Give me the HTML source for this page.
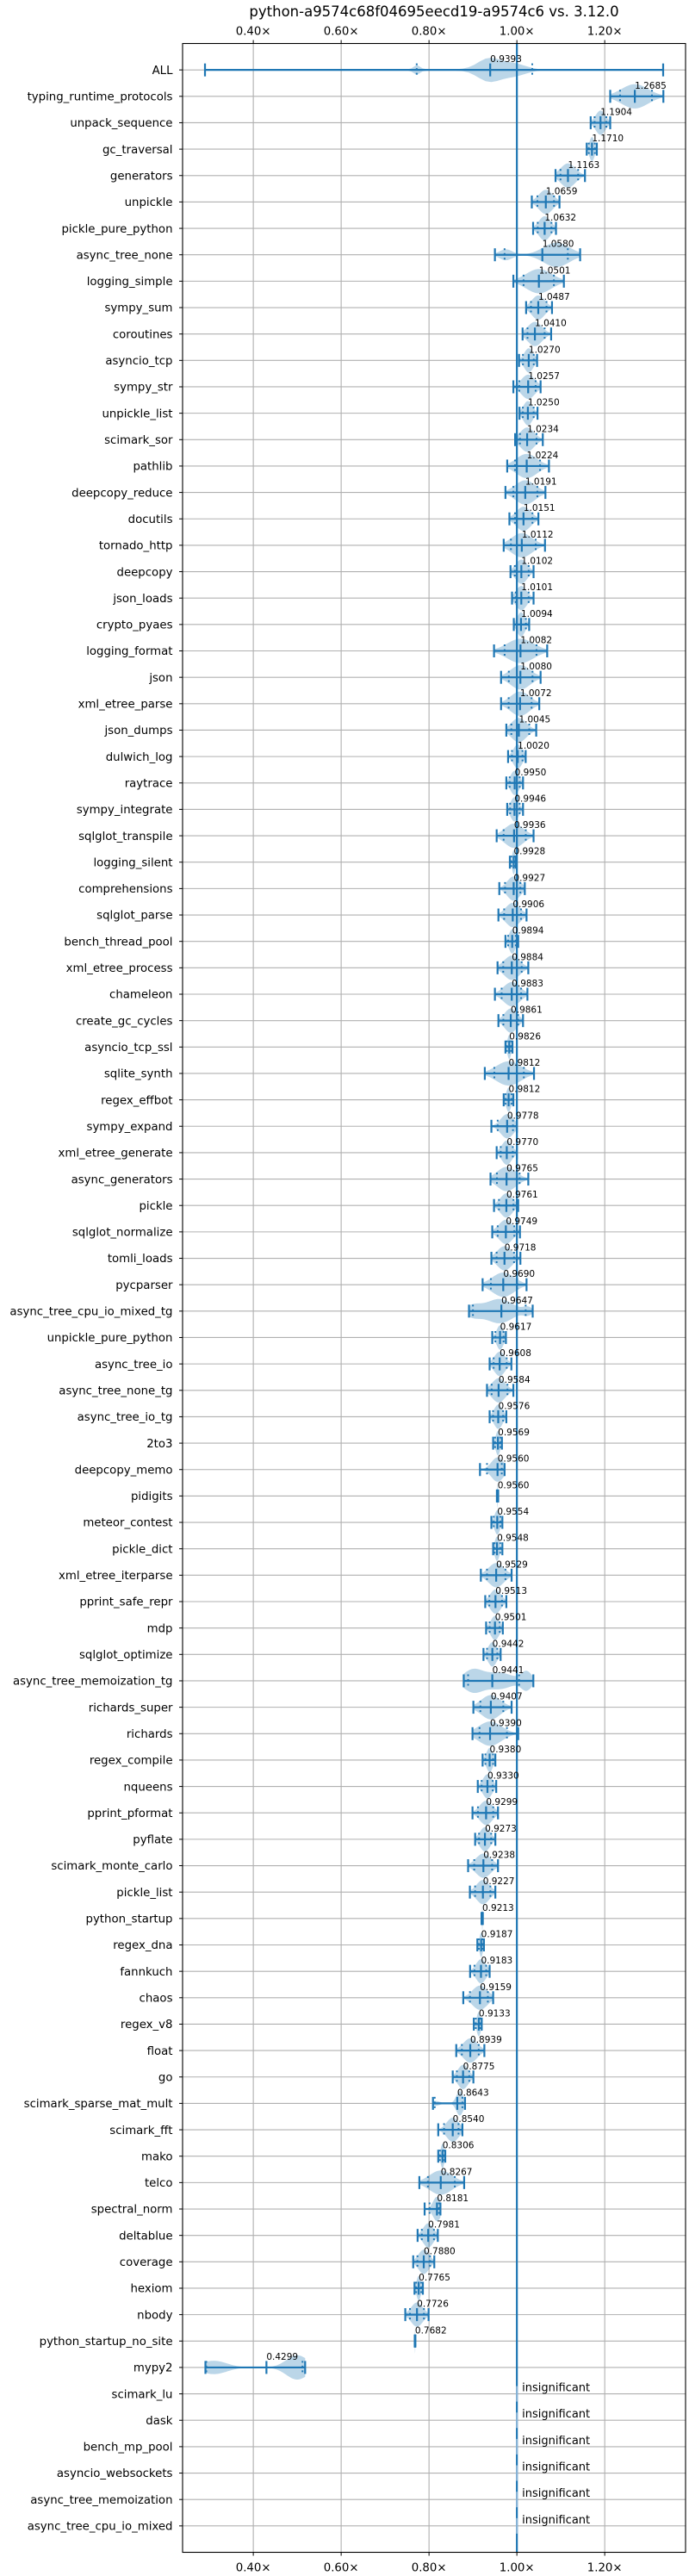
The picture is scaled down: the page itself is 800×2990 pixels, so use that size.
<!DOCTYPE html>
<html><head><meta charset="utf-8"><style>
html,body{margin:0;padding:0;background:#fff;}
svg{display:block;font-family:"DejaVu Sans","Liberation Sans",sans-serif;}
</style></head><body>
<svg id="chart" width="800" height="2990" viewBox="0 0 800 2990" xmlns="http://www.w3.org/2000/svg">
<rect width="800" height="2990" fill="#fff"/>
<text x="504" y="19" text-anchor="middle" font-size="16.5" fill="#000">python-a9574c68f04695eecd19-a9574c6 vs. 3.12.0</text>
<g id="grid"></g><g id="violins"></g><g id="marks"></g><g id="axes"></g>
</svg>
<script>
const names = ["ALL","typing_runtime_protocols","unpack_sequence","gc_traversal","generators","unpickle","pickle_pure_python","async_tree_none","logging_simple","sympy_sum","coroutines","asyncio_tcp","sympy_str","unpickle_list","scimark_sor","pathlib","deepcopy_reduce","docutils","tornado_http","deepcopy","json_loads","crypto_pyaes","logging_format","json","xml_etree_parse","json_dumps","dulwich_log","raytrace","sympy_integrate","sqlglot_transpile","logging_silent","comprehensions","sqlglot_parse","bench_thread_pool","xml_etree_process","chameleon","create_gc_cycles","asyncio_tcp_ssl","sqlite_synth","regex_effbot","sympy_expand","xml_etree_generate","async_generators","pickle","sqlglot_normalize","tomli_loads","pycparser","async_tree_cpu_io_mixed_tg","unpickle_pure_python","async_tree_io","async_tree_none_tg","async_tree_io_tg","2to3","deepcopy_memo","pidigits","meteor_contest","pickle_dict","xml_etree_iterparse","pprint_safe_repr","mdp","sqlglot_optimize","async_tree_memoization_tg","richards_super","richards","regex_compile","nqueens","pprint_pformat","pyflate","scimark_monte_carlo","pickle_list","python_startup","regex_dna","fannkuch","chaos","regex_v8","float","go","scimark_sparse_mat_mult","scimark_fft","mako","telco","spectral_norm","deltablue","coverage","hexiom","nbody","python_startup_no_site","mypy2","scimark_lu","dask","bench_mp_pool","asyncio_websockets","async_tree_memoization","async_tree_cpu_io_mixed"];
const medians = [0.9393,1.2685,1.1904,1.1710,1.1163,1.0659,1.0632,1.0580,1.0501,1.0487,1.0410,1.0270,1.0257,1.0250,1.0234,1.0224,1.0191,1.0151,1.0112,1.0102,1.0101,1.0094,1.0082,1.0080,1.0072,1.0045,1.0020,0.9950,0.9946,0.9936,0.9928,0.9927,0.9906,0.9894,0.9884,0.9883,0.9861,0.9826,0.9812,0.9812,0.9778,0.9770,0.9765,0.9761,0.9749,0.9718,0.9690,0.9647,0.9617,0.9608,0.9584,0.9576,0.9569,0.9560,0.9560,0.9554,0.9548,0.9529,0.9513,0.9501,0.9442,0.9441,0.9407,0.9390,0.9380,0.9330,0.9299,0.9273,0.9238,0.9227,0.9213,0.9187,0.9183,0.9159,0.9133,0.8939,0.8775,0.8643,0.8540,0.8306,0.8267,0.8181,0.7981,0.7880,0.7765,0.7726,0.7682,0.4299,null,null,null,null,null,null];
const mins = [0.29,1.2125,1.168,1.159,1.088,1.034,1.037,0.95,0.992,1.021,1.013,1.005,0.992,1.006,0.996,0.978,0.974,0.983,0.970,0.9855,0.989,0.993,0.948,0.964,0.964,0.976,0.98,0.976,0.978,0.954,0.984,0.96,0.958,0.974,0.956,0.95,0.958,0.974,0.927,0.97,0.942,0.954,0.94,0.948,0.944,0.942,0.922,0.891,0.944,0.938,0.932,0.938,0.946,0.916,0.9545,0.942,0.946,0.918,0.928,0.930,0.924,0.879,0.901,0.899,0.922,0.911,0.899,0.905,0.889,0.893,0.9195,0.91,0.8935,0.878,0.902,0.862,0.854,0.809,0.821,0.821,0.778,0.79,0.774,0.764,0.767,0.746,0.7675,0.291,null,null,null,null,null,null];
const maxs = [1.333,1.3335,1.2125,1.182,1.155,1.097,1.089,1.144,1.107,1.080,1.078,1.046,1.054,1.047,1.059,1.073,1.065,1.049,1.064,1.038,1.038,1.028,1.069,1.054,1.051,1.044,1.020,1.014,1.014,1.038,0.998,1.018,1.022,1.003,1.026,1.024,1.014,0.99,1.039,0.992,1.0,1.0,1.026,1.003,1.007,1.008,1.022,1.036,0.975,0.9875,0.992,0.976,0.966,0.972,0.9575,0.967,0.967,0.988,0.976,0.968,0.963,1.0375,0.988,1.003,0.951,0.953,0.957,0.951,0.957,0.951,0.9225,0.925,0.938,0.946,0.92,0.926,0.901,0.882,0.876,0.837,0.88,0.826,0.82,0.812,0.786,0.799,0.769,0.518,null,null,null,null,null,null];
// extra density lobes: [row, center, sd, weight]
const lobes = [[0,0.772,0.008,0.45],[0,0.935,0.025,1],[0,0.99,0.03,0.6],[0,0.85,0.06,0.06],
  [7,0.975,0.015,0.45],[7,1.09,0.03,1],
  [47,0.9,0.018,0.45],[47,0.96,0.03,1],[47,1.025,0.01,0.3],
  [61,0.9,0.022,0.6],[61,0.96,0.03,0.45],[61,1.022,0.012,0.5],
  [77,0.815,0.01,0.2],[77,0.87,0.008,1],
  [87,0.31,0.03,0.55],[87,0.5,0.025,1]];
// quartile overrides for multimodal rows: [row, q1, q3]
const quartiles = [[0,0.772,1.035],[7,0.972,1.116],[47,0.9,1.02],[61,0.889,1.005],[77,0.813,0.876],[87,0.293,0.512]];
const xTicks = [0.4,0.6,0.8,1.0,1.2];
const xTickLabels = ["0.40x","0.60x","0.80x","1.00x","1.20x"];

const L=212,R=796,T=50.5,B=2962.5,X0=0.239,X1=1.384;
const x = v => L+(v-X0)/(X1-X0)*(R-L);
const rowH = (B-T)/(names.length+1);
const y = i => T+rowH*(i+1);
const NS="http://www.w3.org/2000/svg";
function mk(tag, parent, attrs){const e=document.createElementNS(NS,tag);for(const k in attrs)e.setAttribute(k,attrs[k]);parent.appendChild(e);return e;}
const grid=document.getElementById('grid'),vio=document.getElementById('violins'),marks=document.getElementById('marks'),axes=document.getElementById('axes');
const BLUE="#1f77b4";
xTicks.forEach((t,k)=>{
  const g=mk('line',grid,{x1:x(t),x2:x(t),y1:T,y2:B,stroke:"#b0b0b0","stroke-width":1.1});
  
  
  [[T,T-4,T-10],[B,B+4,B+22]].forEach(([a,b,ty])=>{
    const tk=mk('line',axes,{x1:x(t),x2:x(t),y1:a,y2:b,stroke:"#000","stroke-width":1});
    
    
    const tl=mk('text',axes,{x:x(t),y:ty,"text-anchor":"middle","font-size":13.3,fill:"#000"});
    tl.textContent=xTickLabels[k].replace('x','\u00d7');
    
    
  });
});
names.forEach((n,i)=>{
  const yy=y(i);
  const gl=mk('line',grid,{x1:L,x2:R,y1:yy,y2:yy,stroke:"#b0b0b0","stroke-width":1.1});
  
  
  const tk=mk('line',axes,{x1:L-4,x2:L,y1:yy,y2:yy,stroke:"#000","stroke-width":1});
  
  
  const lb=mk('text',axes,{x:L-11.5,y:yy+4.7,"text-anchor":"end","font-size":13.3,fill:"#000"});
  lb.textContent=n;
  
  
});
const ref=mk('line',marks,{x1:x(1),x2:x(1),y1:T,y2:B,stroke:BLUE,"stroke-width":2.2});


const maxHalf=rowH*0.46;
names.forEach((n,i)=>{
  const yy=y(i), med=medians[i];
  if(med===null){
    const t=mk('line',marks,{x1:x(1),x2:x(1),y1:yy-9,y2:yy+9,stroke:"#8fb7d9","stroke-width":2});
    
    
    const tx=mk('text',marks,{x:x(1)+6,y:yy-3,"font-size":13,fill:"#000"});
    tx.textContent="insignificant";
    
    
    return;
  }
  const lo=mins[i],hi=maxs[i];
  let comps=lobes.filter(l=>l[0]===i).map(l=>[l[1],l[2],l[3]]);
  if(!comps.length) comps=[[med,Math.max((hi-lo)/4,0.0005),1]];
  const N=80,pts=[];let mx=0;
  for(let k=0;k<=N;k++){const v=lo+(hi-lo)*k/N;let d=0;comps.forEach(c=>{d+=c[2]*Math.exp(-0.5*((v-c[0])/c[1])**2);});pts.push([v,d]);if(d>mx)mx=d;}
  let p="";
  pts.forEach((q,k)=>{p+=(k?"L":"M")+x(q[0]).toFixed(2)+","+(yy-q[1]/mx*maxHalf).toFixed(2);});
  for(let k=pts.length-1;k>=0;k--){p+="L"+x(pts[k][0]).toFixed(2)+","+(yy+pts[k][1]/mx*maxHalf).toFixed(2);}
  const vp=mk('path',vio,{d:p+"Z",fill:BLUE,"fill-opacity":0.3});
  
  
  const wl=mk('line',marks,{x1:x(lo),x2:x(hi),y1:yy,y2:yy,stroke:BLUE,"stroke-width":2.2});
  
  
  [lo,hi,med].forEach(v=>{
    const c=mk('line',marks,{x1:x(v),x2:x(v),y1:yy-7.5,y2:yy+7.5,stroke:BLUE,"stroke-width":2.2});
    
    
  });
  const qo=quartiles.find(q=>q[0]===i);
  const qs=qo?[qo[1],qo[2]]:[med-(med-lo)*0.6,med+(hi-med)*0.6];
  qs.forEach(v=>{
    const c=mk('line',marks,{x1:x(v),x2:x(v),y1:yy-7.5,y2:yy+7.5,stroke:BLUE,"stroke-width":2,"stroke-dasharray":"2,3.5"});
    
    
  });
  const lt=mk('text',marks,{x:x(med),y:yy-9,"font-size":10.5,fill:"#000"});
  lt.textContent=med.toFixed(4);
  
  
});
const frame=mk('rect',axes,{x:L,y:T,width:R-L,height:B-T,fill:"none",stroke:"#000","stroke-width":1.1});


</script>
</body></html>
